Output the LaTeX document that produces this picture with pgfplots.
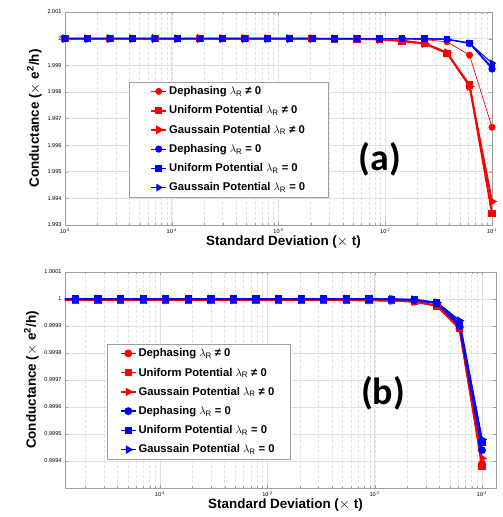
\documentclass[border=0pt]{standalone}
\usepackage{fontspec}
\setmainfont{Liberation Sans}
\newfontfamily\labelfont{Carlito}
\usepackage{pgfplots}
\pgfplotsset{compat=1.18}

\definecolor{gridmaj}{gray}{0.88}
\definecolor{gridmin}{gray}{0.89}
\definecolor{frame}{gray}{0.62}

\pgfplotsset{
  log number format basis/.code 2 args={#1\textsuperscript{\pgfmathprintnumber{#2}}},
  legend image code/.code={\draw[#1,mark repeat=2,mark phase=2]
      plot coordinates {(0bp,0bp) (7.5bp,0bp) (15bp,0bp)};},
  every axis/.append style={
    scale only axis,
    axis line style={frame}, tick style={frame},
    tick align=inside, major tick length=3bp, minor tick length=1.6bp,
    grid=both, major grid style={gridmaj,line width=0.5pt},
    minor grid style={gridmin,line width=0.4pt,dash pattern=on 2.5bp off 2.5bp},
    tick label style={font=\fontsize{5.6}{6}\selectfont},
    /pgf/number format/assume math mode=true,
    xlabel={\bfseries Standard Deviation ($\times$ t)},
    ylabel={\bfseries Conductance ($\times$ e\textsuperscript{2}/h)},
    label style={font=\fontsize{13.5}{15}\selectfont},
    legend cell align=left,
    legend style={font=\bfseries\fontsize{11.3}{12}\selectfont,draw=frame,
      row sep=5.6bp,inner ysep=2.5bp},
  },
}
\tikzset{
  rd/.style={red,line width=#1,mark=*,mark size=3.1bp},
  ru/.style={red,line width=#1,mark=square*,mark size=2.8bp},
  rg/.style={red,line width=#1,mark=triangle*,mark size=3.4bp,mark options={rotate=-90}},
  bd/.style={blue,line width=#1,mark=*,mark size=3.1bp},
  bu/.style={blue,line width=#1,mark=square*,mark size=2.8bp},
  bg/.style={blue,line width=#1,mark=triangle*,mark size=3.4bp,mark options={rotate=-90}},
}

\begin{document}
\begin{tikzpicture}[x=1bp,y=1bp]
\path[use as bounding box] (0,0) rectangle (503,517);

% ---------------- (a)
\begin{axis}[xmode=log, at={(65bp,292bp)}, anchor=south west,
  width=427bp, height=213bp,
  xmin=1e-5, xmax=0.1, ymin=1.993, ymax=2.001,
  ytick={1.993,1.994,1.995,1.996,1.997,1.998,1.999,2,2.001},
  yticklabels={1.993,1.994,1.995,1.996,1.997,1.998,1.999,2,2.001},
  legend style={at={(rel axis cs:0.15,0.672)},anchor=north west,inner xsep=21bp},
  ylabel style={yshift=-1bp}, xlabel style={yshift=5bp,xshift=5bp}]
\addplot[rd=0.7pt] coordinates {
 (1e-5,2) (1.6238e-5,2) (2.6367e-5,2) (4.2813e-5,2) (6.9519e-5,2)
 (1.1288e-4,2) (1.8330e-4,2) (2.9764e-4,2) (4.8329e-4,2) (7.8476e-4,2)
 (1.2743e-3,2) (2.0691e-3,2) (3.3598e-3,2) (5.4556e-3,2) (8.8587e-3,1.99999)
 (1.4384e-2,1.99998) (2.3357e-2,1.99996) (3.7927e-2,1.99988) (6.1585e-2,1.99938) (0.1,1.99667)};
\addlegendentry{Dephasing $\lambda_{\mathrm{R}}$ ≠ 0}
\addplot[ru=1.9pt] coordinates {
 (1e-5,2) (1.6238e-5,2) (2.6367e-5,2) (4.2813e-5,2) (6.9519e-5,2)
 (1.1288e-4,2) (1.8330e-4,2) (2.9764e-4,2) (4.8329e-4,2) (7.8476e-4,2)
 (1.2743e-3,2) (2.0691e-3,2) (3.3598e-3,1.99999) (5.4556e-3,1.99999) (8.8587e-3,1.99997)
 (1.4384e-2,1.99991) (2.3357e-2,1.99981) (3.7927e-2,1.99945) (6.1585e-2,1.99826) (0.1,1.99343)};
\addlegendentry{Uniform Potential $\lambda_{\mathrm{R}}$ ≠ 0}
\addplot[rg=1.9pt] coordinates {
 (1e-5,2) (1.6238e-5,2) (2.6367e-5,2) (4.2813e-5,2) (6.9519e-5,2)
 (1.1288e-4,2) (1.8330e-4,2) (2.9764e-4,2) (4.8329e-4,2) (7.8476e-4,2)
 (1.2743e-3,2) (2.0691e-3,2) (3.3598e-3,1.99999) (5.4556e-3,1.99999) (8.8587e-3,1.99997)
 (1.4384e-2,1.99992) (2.3357e-2,1.99982) (3.7927e-2,1.99947) (6.1585e-2,1.99821) (0.1,1.99388)};
\addlegendentry{Gaussain Potential $\lambda_{\mathrm{R}}$ ≠ 0}
\addplot[bd=1pt] coordinates {
 (1e-5,2) (1.6238e-5,2) (2.6367e-5,2) (4.2813e-5,2) (6.9519e-5,2)
 (1.1288e-4,2) (1.8330e-4,2) (2.9764e-4,2) (4.8329e-4,2) (7.8476e-4,2)
 (1.2743e-3,2) (2.0691e-3,2) (3.3598e-3,2) (5.4556e-3,2) (8.8587e-3,2)
 (1.4384e-2,2) (2.3357e-2,1.99999) (3.7927e-2,1.99997) (6.1585e-2,1.99982) (0.1,1.99886)};
\addlegendentry{Dephasing $\lambda_{\mathrm{R}}$ = 0}
\addplot[bu=1pt] coordinates {
 (1e-5,2) (1.6238e-5,2) (2.6367e-5,2) (4.2813e-5,2) (6.9519e-5,2)
 (1.1288e-4,2) (1.8330e-4,2) (2.9764e-4,2) (4.8329e-4,2) (7.8476e-4,2)
 (1.2743e-3,2) (2.0691e-3,2) (3.3598e-3,2) (5.4556e-3,2) (8.8587e-3,2)
 (1.4384e-2,2) (2.3357e-2,2) (3.7927e-2,1.99998) (6.1585e-2,1.99984) (0.1,1.99893)};
\addlegendentry{Uniform Potential $\lambda_{\mathrm{R}}$ = 0}
\addplot[bg=1pt] coordinates {
 (1e-5,2) (1.6238e-5,2) (2.6367e-5,2) (4.2813e-5,2) (6.9519e-5,2)
 (1.1288e-4,2) (1.8330e-4,2) (2.9764e-4,2) (4.8329e-4,2) (7.8476e-4,2)
 (1.2743e-3,2) (2.0691e-3,2) (3.3598e-3,2) (5.4556e-3,2) (8.8587e-3,2)
 (1.4384e-2,2) (2.3357e-2,2) (3.7927e-2,1.99997) (6.1585e-2,1.99983) (0.1,1.99908)};
\addlegendentry{Gaussain Potential $\lambda_{\mathrm{R}}$ = 0}
\node[font=\labelfont\bfseries\fontsize{38}{40}\selectfont] at (rel axis cs:0.738,0.31) {(a)};
\end{axis}

% ---------------- (b)
\begin{axis}[xmode=log, at={(65bp,29bp)}, anchor=south west,
  width=431bp, height=216bp,
  xmin=1.3e-5, xmax=0.135, ymin=0.9993, ymax=1.0001,
  ytick={0.9994,0.9995,0.9996,0.9997,0.9998,0.9999,1,1.0001},
  yticklabels={0.9994,0.9995,0.9996,0.9997,0.9998,0.9999,1,1.0001},
  legend style={at={(rel axis cs:0.097,0.667)},anchor=north west,inner xsep=13bp},
  ylabel style={yshift=-1bp}, xlabel style={yshift=5bp,xshift=5bp}]
\addplot[rd=1.6pt] coordinates {
 (1e-5,0.999996) (1.6238e-5,0.999996) (2.6367e-5,0.999996) (4.2813e-5,0.999996) (6.9519e-5,0.999996)
 (1.1288e-4,0.999996) (1.8330e-4,0.999996) (2.9764e-4,0.999996) (4.8329e-4,0.999996) (7.8476e-4,0.999996)
 (1.2743e-3,0.999996) (2.0691e-3,0.999996) (3.3598e-3,0.999996) (5.4556e-3,0.999996) (8.8587e-3,0.999995)
 (1.4384e-2,0.999994) (2.3357e-2,0.99999) (3.7927e-2,0.999975) (6.1585e-2,0.99989) (0.1,0.99939)};
\addlegendentry{Dephasing $\lambda_{\mathrm{R}}$ ≠ 0}
\addplot[ru=1.6pt] coordinates {
 (1e-5,0.999996) (1.6238e-5,0.999996) (2.6367e-5,0.999996) (4.2813e-5,0.999996) (6.9519e-5,0.999996)
 (1.1288e-4,0.999996) (1.8330e-4,0.999996) (2.9764e-4,0.999996) (4.8329e-4,0.999996) (7.8476e-4,0.999996)
 (1.2743e-3,0.999996) (2.0691e-3,0.999996) (3.3598e-3,0.999996) (5.4556e-3,0.999996) (8.8587e-3,0.999995)
 (1.4384e-2,0.999994) (2.3357e-2,0.99999) (3.7927e-2,0.999974) (6.1585e-2,0.99989) (0.1,0.99938)};
\addlegendentry{Uniform Potential $\lambda_{\mathrm{R}}$ ≠ 0}
\addplot[rg=1.6pt] coordinates {
 (1e-5,0.999996) (1.6238e-5,0.999996) (2.6367e-5,0.999996) (4.2813e-5,0.999996) (6.9519e-5,0.999996)
 (1.1288e-4,0.999996) (1.8330e-4,0.999996) (2.9764e-4,0.999996) (4.8329e-4,0.999996) (7.8476e-4,0.999996)
 (1.2743e-3,0.999996) (2.0691e-3,0.999996) (3.3598e-3,0.999996) (5.4556e-3,0.999996) (8.8587e-3,0.999995)
 (1.4384e-2,0.999994) (2.3357e-2,0.99999) (3.7927e-2,0.999976) (6.1585e-2,0.999895) (0.1,0.99941)};
\addlegendentry{Gaussain Potential $\lambda_{\mathrm{R}}$ ≠ 0}
\addplot[bd=1.6pt] coordinates {
 (1e-5,1) (1.6238e-5,1) (2.6367e-5,1) (4.2813e-5,1) (6.9519e-5,1)
 (1.1288e-4,1) (1.8330e-4,1) (2.9764e-4,1) (4.8329e-4,1) (7.8476e-4,1)
 (1.2743e-3,1) (2.0691e-3,1) (3.3598e-3,1) (5.4556e-3,1) (8.8587e-3,1)
 (1.4384e-2,0.999999) (2.3357e-2,0.999996) (3.7927e-2,0.999984) (6.1585e-2,0.99990) (0.1,0.99944)};
\addlegendentry{Dephasing $\lambda_{\mathrm{R}}$ = 0}
\addplot[bu=1.6pt] coordinates {
 (1e-5,1) (1.6238e-5,1) (2.6367e-5,1) (4.2813e-5,1) (6.9519e-5,1)
 (1.1288e-4,1) (1.8330e-4,1) (2.9764e-4,1) (4.8329e-4,1) (7.8476e-4,1)
 (1.2743e-3,1) (2.0691e-3,1) (3.3598e-3,1) (5.4556e-3,1) (8.8587e-3,1)
 (1.4384e-2,0.999999) (2.3357e-2,0.999997) (3.7927e-2,0.999985) (6.1585e-2,0.99991) (0.1,0.99947)};
\addlegendentry{Uniform Potential $\lambda_{\mathrm{R}}$ = 0}
\addplot[bg=1.6pt] coordinates {
 (1e-5,1) (1.6238e-5,1) (2.6367e-5,1) (4.2813e-5,1) (6.9519e-5,1)
 (1.1288e-4,1) (1.8330e-4,1) (2.9764e-4,1) (4.8329e-4,1) (7.8476e-4,1)
 (1.2743e-3,1) (2.0691e-3,1) (3.3598e-3,1) (5.4556e-3,1) (8.8587e-3,1)
 (1.4384e-2,0.999999) (2.3357e-2,0.999998) (3.7927e-2,0.999987) (6.1585e-2,0.99992) (0.1,0.99948)};
\addlegendentry{Gaussain Potential $\lambda_{\mathrm{R}}$ = 0}
\node[font=\labelfont\bfseries\fontsize{38}{40}\selectfont] at (rel axis cs:0.738,0.44) {(b)};
\end{axis}
\end{tikzpicture}
\end{document}
